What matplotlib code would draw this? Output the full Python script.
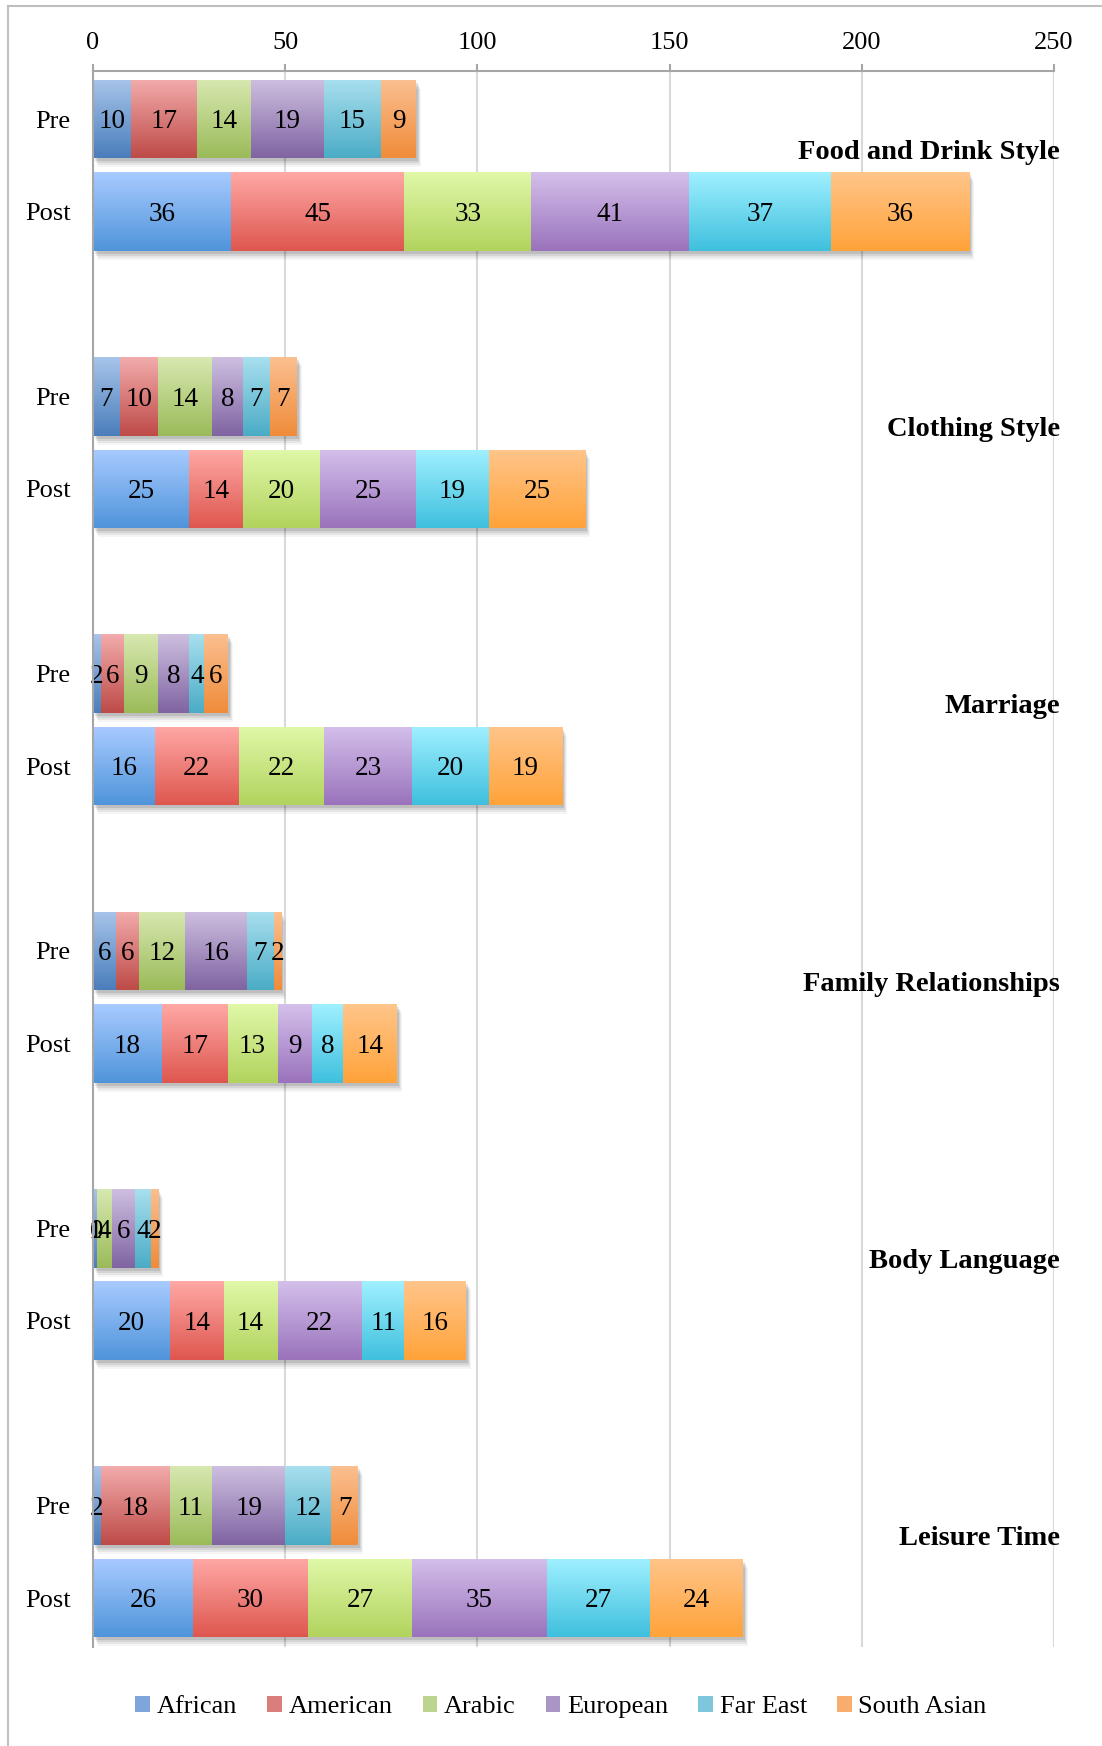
import numpy as np
import matplotlib
matplotlib.use("Agg")
import matplotlib.pyplot as plt
from matplotlib.patches import Rectangle, Patch
from matplotlib.lines import Line2D
import matplotlib.transforms as mtransforms

# ---------------- data ----------------
categories = ["Food and Drink Style", "Clothing Style", "Marriage",
              "Family Relationships", "Body Language", "Leisure Time"]
series = ["African", "American", "Arabic", "European", "Far East", "South Asian"]
phases = ["Pre", "Post"]

pre_values = [
    [10, 17, 14, 19, 15, 9],
    [7, 10, 14, 8, 7, 7],
    [2, 6, 9, 8, 4, 6],
    [6, 6, 12, 16, 7, 2],
    [1, 0, 4, 6, 4, 2],
    [2, 18, 11, 19, 12, 7],
]
post_values = [
    [36, 45, 33, 41, 37, 36],
    [25, 14, 20, 25, 19, 25],
    [16, 22, 22, 23, 20, 19],
    [18, 17, 13, 9, 8, 14],
    [20, 14, 14, 22, 11, 16],
    [26, 30, 27, 35, 27, 24],
]
x_ticks = [0, 50, 100, 150, 200, 250]

# ---------------- styles ----------------
pre_top = ["#A7C4EA", "#F2ABAB", "#D7E8B0", "#CDBFE0", "#A8DFEE", "#FBBF90"]
pre_bot = ["#4A7EBB", "#BE4B48", "#9BBB59", "#8064A2", "#4BACC6", "#F08C3A"]
post_top = ["#A8CBFF", "#FFA8A5", "#E0F8A8", "#D4BFEB", "#A0F0FF", "#FFC58A"]
post_bot = ["#4F94DA", "#DE574F", "#B2D35E", "#9A73BC", "#3FC0DE", "#FFA33A"]
legend_cols = ["#7FA6DA", "#DA7E7C", "#BCD58E", "#A995C6", "#7EC6DC", "#F8AC6D"]

FONT = "Liberation Serif"
W, H = 1102, 1746
fig = plt.figure(figsize=(W / 100, H / 100), dpi=100)
fig.patch.set_facecolor("white")

x0, x1 = 93, 1054
y0, y1 = 71, 1647
ax = fig.add_axes([x0 / W, 1 - y1 / H, (x1 - x0) / W, (y1 - y0) / H])

bar_h = 0.85


def hex2rgb(h):
    h = h.lstrip("#")
    return np.array([int(h[i:i + 2], 16) / 255 for i in (0, 2, 4)])


def draw_row(ypos, vals, tops, bots):
    total = sum(vals)
    # soft shadow
    for dx, dy, a in [(2, -3, 0.10), (3, -5, 0.08), (4, -7, 0.06), (5, -9, 0.04)]:
        off = mtransforms.ScaledTranslation(dx / 100, dy / 100, fig.dpi_scale_trans)
        r = Rectangle((0, ypos - bar_h / 2), total, bar_h, facecolor="black",
                      edgecolor="none", alpha=a, transform=ax.transData + off, zorder=1)
        ax.add_patch(r)
    left = 0
    for v, ct, cb in zip(vals, tops, bots):
        bars = ax.barh(ypos, v, left=left, height=bar_h, color="none",
                       edgecolor="none", zorder=3)
        patch = bars.patches[0]
        if v > 0:
            t = np.linspace(0, 1, 64)[:, None, None]
            img = hex2rgb(ct)[None, None, :] * (1 - t) + hex2rgb(cb)[None, None, :] * t
            im = ax.imshow(img, extent=(left, left + v, ypos + bar_h / 2, ypos - bar_h / 2),
                           aspect="auto", interpolation="bilinear", zorder=2)
            im.set_clip_path(patch)
        ax.text(left + v / 2, ypos + 0.03, str(v), ha="center", va="center",
                fontsize=19.5, family=FONT, color="black", zorder=4)
        left += v


yticks, ylabels = [], []
for g, cat in enumerate(categories):
    ypre, ypost = 3 * g, 3 * g + 1
    draw_row(ypre, pre_values[g], pre_top, pre_bot)
    draw_row(ypost, post_values[g], post_top, post_bot)
    yticks += [ypre, ypost]
    ylabels += phases
    ax.text(1.006, ypre + 0.36, cat, transform=ax.get_yaxis_transform(),
            ha="right", va="center", fontsize=20.5, fontweight="bold",
            family=FONT, color="black", zorder=5)

ax.set_xlim(0, 250)
ax.set_ylim(16.53, -0.52)

ax.xaxis.tick_top()
ax.set_xticks(x_ticks)
ax.set_xticklabels([str(t) for t in x_ticks], fontsize=19, family=FONT)
ax.tick_params(axis="x", direction="out", length=5, width=1.5, color="#A6A6A6", pad=7)
ax.set_yticks(yticks)
ax.set_yticklabels(ylabels, fontsize=19, family=FONT)
ax.tick_params(axis="y", length=0, pad=16)
for lbl in ax.get_yticklabels():
    lbl.set_va("center_baseline")

for s in ["right", "bottom"]:
    ax.spines[s].set_visible(False)
for s in ["top", "left"]:
    ax.spines[s].set_color("#A6A6A6")
    ax.spines[s].set_linewidth(1.5)
    ax.spines[s].set_zorder(6)

ax.set_axisbelow(True)
ax.grid(axis="x", color="#D9D9D9", linewidth=1.5, zorder=0)
ax.grid(axis="y", visible=False)

# legend
handles = [Patch(facecolor=c, edgecolor="none") for c in legend_cols]
fig.legend(handles, series, loc="center", bbox_to_anchor=(0.509, 1 - 1707 / H),
           ncol=6, frameon=False, prop={"family": FONT, "size": 19},
           handlelength=0.55, handleheight=0.55, handletextpad=0.25,
           columnspacing=1.15)

# outer frame
fig.add_artist(Line2D([8 / W, 8 / W], [0, 1 - 6 / H], color="#BFBFBF", lw=1.5,
                      transform=fig.transFigure))
fig.add_artist(Line2D([8 / W, 1], [1 - 6 / H, 1 - 6 / H], color="#BFBFBF", lw=1.5,
                      transform=fig.transFigure))

fig.savefig("out.png", dpi=100, facecolor="white")
